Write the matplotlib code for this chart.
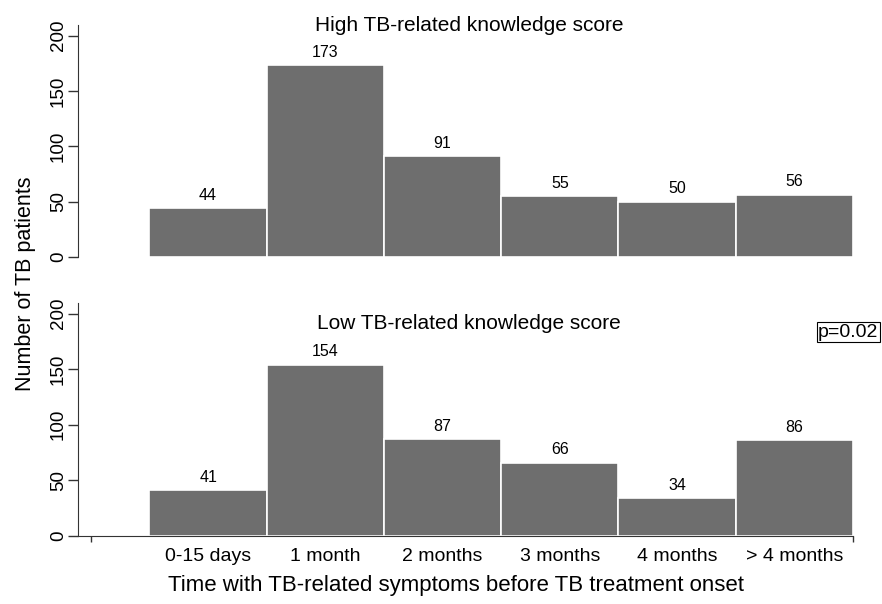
import numpy as np
import matplotlib
matplotlib.use("Agg")
import matplotlib.pyplot as plt

plt.rcParams['font.family'] = ['Liberation Sans', 'DejaVu Sans']

categories = ["0-15 days", "1 month", "2 months", "3 months", "4 months", "> 4 months"]
high_counts = [44, 173, 91, 55, 50, 56]
low_counts = [41, 154, 87, 66, 34, 86]
panel_titles = ["High TB-related knowledge score", "Low TB-related knowledge score"]
y_ticks = [0, 50, 100, 150, 200]

bar_color = "#6e6e6e"

fig = plt.figure(figsize=(8.82, 6.04), dpi=100)
ax_top = fig.add_axes([0.0884, 0.5745, 0.8787, 0.3841])
ax_bot = fig.add_axes([0.0884, 0.1126, 0.8787, 0.3857])

x = np.arange(1, len(categories) + 1)
title_y = [0.9586, 0.4636]

for ax, counts, title, ty in zip([ax_top, ax_bot], [high_counts, low_counts], panel_titles, title_y):
    bars = ax.bar(x, counts, width=1.0, color=bar_color, edgecolor="white", linewidth=1.2)
    for b, v in zip(bars, counts):
        ax.annotate(str(v), (b.get_x() + b.get_width() / 2, v),
                    xytext=(0, 4), textcoords="offset points",
                    ha="center", va="bottom", fontsize=11.5)
    ax.set_xlim(-0.11, 6.5)
    ax.set_ylim(0, 209.5)
    ax.set_yticks(y_ticks)
    ax.set_yticklabels([str(t) for t in y_ticks], rotation=90, va="center", fontsize=13.5)
    ax.tick_params(axis="y", length=7, width=1, pad=1, color="#333333")
    ax.spines["top"].set_visible(False)
    ax.spines["right"].set_visible(False)
    ax.spines["left"].set_color("#333333")
    fig.text(0.532, ty, title, ha="center", va="center", fontsize=15)

# top panel: no x axis
ax_top.spines["bottom"].set_visible(False)
ax_top.set_xticks([])

# bottom panel: axis line with end ticks only, labels under bars
ax_bot.spines["bottom"].set_color("#333333")
ax_bot.set_xticks([0, 6.5])
ax_bot.set_xticklabels(["", ""])
ax_bot.tick_params(axis="x", which="major", length=4, width=1, color="#333333")
ax_bot.set_xticks(x, minor=True)
ax_bot.set_xticklabels(categories, minor=True, fontsize=14)
ax_bot.tick_params(axis="x", which="minor", length=0, pad=9)

fig.text(0.517, 0.03, "Time with TB-related symptoms before TB treatment onset",
         ha="center", va="center", fontsize=16)
fig.text(0.029, 0.53, "Number of TB patients", rotation=90,
         ha="center", va="center", fontsize=15.5)

fig.text(0.996, 0.45, "p=0.02", ha="right", va="center", fontsize=14,
         bbox=dict(boxstyle="square,pad=0.08", facecolor="white", edgecolor="black", linewidth=0.8))

fig.savefig("out.png", dpi=100)
